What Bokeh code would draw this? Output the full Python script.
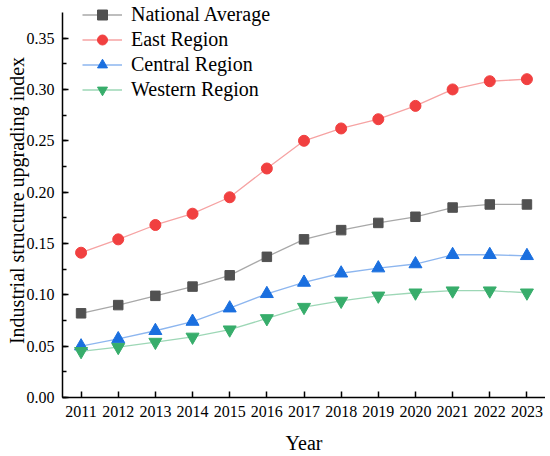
from bokeh.plotting import figure
from bokeh.models import (Legend, LegendItem, FixedTicker, SingleIntervalTicker,
                          NumeralTickFormatter, Range1d, ColumnDataSource)
from bokeh.embed import file_html
from bokeh.resources import INLINE

years = list(range(2011, 2024))
national = [0.082, 0.090, 0.099, 0.108, 0.119, 0.137, 0.154, 0.163, 0.170, 0.176, 0.185, 0.188, 0.188]
east = [0.141, 0.154, 0.168, 0.179, 0.195, 0.223, 0.250, 0.262, 0.271, 0.284, 0.300, 0.308, 0.310]
central = [0.050, 0.057, 0.065, 0.074, 0.087, 0.101, 0.112, 0.121, 0.126, 0.130, 0.139, 0.139, 0.138]
western = [0.045, 0.049, 0.054, 0.059, 0.066, 0.077, 0.088, 0.094, 0.099, 0.102, 0.104, 0.104, 0.102]

series_names = ["National Average", "East Region", "Central Region", "Western Region"]
series_values = [national, east, central, western]
marker_colors = ["#515151", "#F14040", "#1A6FDF", "#37AD6B"]
line_colors = ["#a8a8a8", "#f6a3a3", "#8db6ef", "#9dd7b6"]
markers = ["square", "circle", "triangle", "inverted_triangle"]
sizes = [9.5, 11, 13, 13]

FONT = "Liberation Serif"

p = figure(width=545, height=456, output_backend="svg", toolbar_location=None,
           x_range=Range1d(2010.5, 2023.5), y_range=Range1d(0, 0.3837),
           min_border_left=62, min_border_right=0, min_border_top=3, min_border_bottom=56)
p.grid.visible = False
p.outline_line_color = None
p.background_fill_color = "white"

items = []
for name, vals, mc, lc, mk, sz in zip(series_names, series_values, marker_colors, line_colors, markers, sizes):
    src = ColumnDataSource(dict(x=years, y=vals))
    ln = p.line("x", "y", source=src, line_color=lc, line_width=1.3)
    sc = p.scatter("x", "y", source=src, marker=mk, size=sz, fill_color=mc, line_color=mc)
    items.append(LegendItem(label=name, renderers=[ln, sc]))

xa = p.xaxis[0]
xa.ticker = FixedTicker(ticks=years, minor_ticks=[])
xa.axis_label = "Year"
ya = p.yaxis[0]
ya.ticker = SingleIntervalTicker(interval=0.05, num_minor_ticks=2)
ya.formatter = NumeralTickFormatter(format="0.00")
ya.axis_label = "Industrial structure upgrading index"
ya.bounds = (0, 0.375)

for ax in (xa, ya):
    ax.axis_line_width = 1.5
    ax.axis_line_color = "black"
    ax.major_tick_in = 6
    ax.major_tick_out = 0
    ax.minor_tick_in = 4
    ax.minor_tick_out = 0
    ax.major_tick_line_width = 1.5
    ax.minor_tick_line_width = 1.5
    ax.major_tick_line_color = "black"
    ax.minor_tick_line_color = "black"
    ax.major_label_text_font = FONT
    ax.major_label_text_font_size = "16px"
    ax.major_label_text_color = "black"
    ax.axis_label_text_font = FONT
    ax.axis_label_text_font_size = "20px"
    ax.axis_label_text_font_style = "normal"
    ax.axis_label_text_color = "black"
    ax.major_label_standoff = 8

xa.axis_label_standoff = 12
ya.axis_label_standoff = -4

legend = Legend(items=items, location=(20, 295), glyph_width=40, glyph_height=25,
                label_height=25, spacing=0, padding=0, margin=0, label_standoff=9,
                border_line_color=None, background_fill_alpha=0,
                label_text_font=FONT, label_text_font_size="20px", label_text_color="black")
p.add_layout(legend)

open("out.html", "w").write(file_html(p, INLINE))
